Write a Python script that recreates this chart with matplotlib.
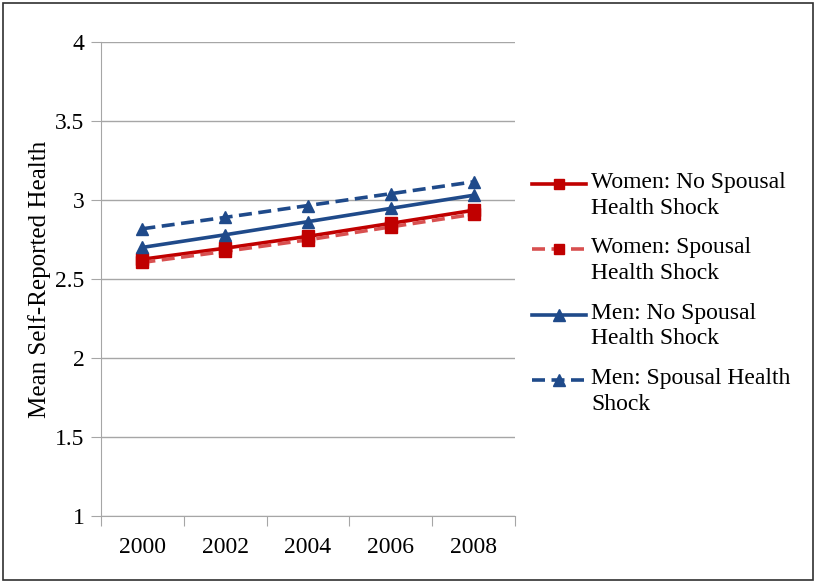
import matplotlib.pyplot as plt
from matplotlib.lines import Line2D
from matplotlib.patches import Rectangle

plt.rcParams['font.family'] = ['Liberation Serif', 'DejaVu Serif']

years = ['2000', '2002', '2004', '2006', '2008']
women_no_shock = [2.625, 2.695, 2.77, 2.852, 2.935]
women_shock = [2.605, 2.675, 2.748, 2.83, 2.91]
men_no_shock = [2.70, 2.78, 2.863, 2.947, 3.03]
men_shock = [2.818, 2.89, 2.965, 3.04, 3.115]

labels = ['Women: No Spousal\nHealth Shock', 'Women: Spousal\nHealth Shock',
          'Men: No Spousal\nHealth Shock', 'Men: Spousal Health\nShock']

red = '#C00000'
red_light = '#D85050'
blue = '#1F4A8A'
grid_grey = '#A6A6A6'
dash = (0, (3.6, 1.8))

# line colour, line style, marker, marker size, marker colour
styles = [
    (red, '-', 's', 8, red),
    (red_light, dash, 's', 8, red),
    (blue, '-', '^', 9, blue),
    (blue, dash, '^', 9, blue),
]
series = [women_no_shock, women_shock, men_no_shock, men_shock]

W, H = 815, 582
fig = plt.figure(figsize=(W / 100, H / 100), dpi=100)
ax = fig.add_axes([101 / W, 1 - 516 / H, 414 / W, 474 / H])

x = range(len(years))
for vals, (lc, ls, mk, ms, mc) in zip(series, styles):
    ax.plot(x, vals, color=lc, lw=2.6, ls=ls, marker=mk, ms=ms, mfc=mc, mec=mc)

# y axis with horizontal gridlines every 0.5
ax.set_ylim(1, 4)
ax.set_yticks([1, 1.5, 2, 2.5, 3, 3.5, 4])
ax.set_yticklabels(['1', '1.5', '2', '2.5', '3', '3.5', '4'])
ax.yaxis.grid(True, color=grid_grey, lw=1)
ax.set_axisbelow(True)
ax.set_ylabel('Mean Self-Reported Health', fontsize=18, labelpad=3)

# category axis: ticks between categories, labels centred
ax.set_xlim(-0.5, len(years) - 0.5)
ax.set_xticks([i - 0.5 for i in range(len(years) + 1)])
ax.set_xticklabels([])
ax.set_xticks(list(x), minor=True)
ax.set_xticklabels(years, minor=True)
ax.tick_params(axis='x', which='minor', length=0, pad=15, labelsize=17)
ax.tick_params(axis='x', which='major', length=7, color=grid_grey)
ax.tick_params(axis='y', length=7, color=grid_grey, pad=5, labelsize=17)

for side in ['top', 'right']:
    ax.spines[side].set_visible(False)
for side in ['left', 'bottom']:
    ax.spines[side].set_color(grid_grey)

# legend: handle sits beside the first line of each two-line label
for i, (label, (lc, ls, mk, ms, mc)) in enumerate(zip(labels, styles)):
    y = 1 - (184 + 65.3 * i) / H
    fig.add_artist(Line2D([532 / W, 586 / W], [y, y], color=lc, lw=2.6, ls=ls,
                          transform=fig.transFigure))
    fig.add_artist(Line2D([559 / W], [y], marker=mk, ms=ms - 1, mfc=mc, mec=mc,
                          ls='none', transform=fig.transFigure))
    fig.text(591 / W, y + 12 / H, label, fontsize=17, va='top', ha='left',
             linespacing=1.3)

# thin frame around the whole chart
fig.patches.append(Rectangle((2.5 / W, 2.5 / H), 1 - 5 / W, 1 - 5 / H,
                             transform=fig.transFigure, fill=False,
                             ec='#303030', lw=1.2))

fig.savefig('out.png', dpi=100)
